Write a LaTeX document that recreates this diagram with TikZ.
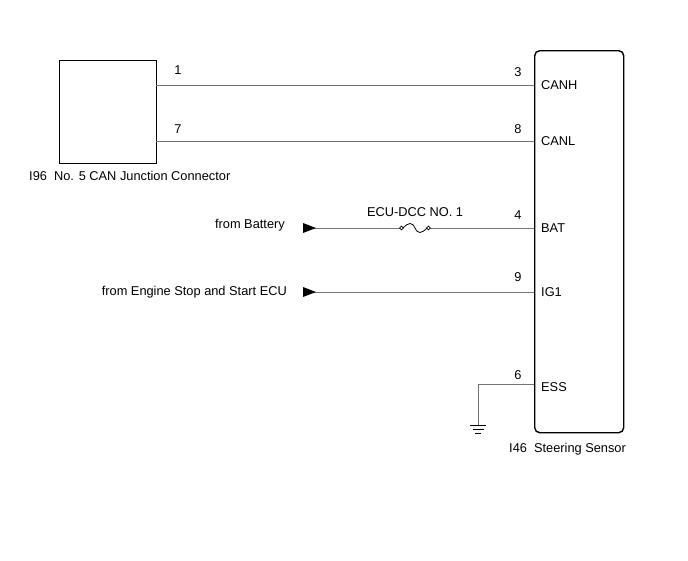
\documentclass[tikz,border=0pt]{standalone}
\usepackage{fontspec}
\setmainfont{Liberation Sans}
\begin{document}
\begin{tikzpicture}[x=1pt,y=-1pt,font=\fontsize{12.8}{15}\selectfont,
  wire/.style={draw=black!55,line width=0.9pt},
  lbl/.style={inner sep=0pt},
  arr/.style={fill=black}]
\useasboundingbox (0,0) rectangle (688,560);
\node[draw,line width=1.4pt,minimum width=97pt,minimum height=103pt,anchor=north west] (jc) at (59,60) {};
\node[draw,line width=1.4pt,rounded corners=5pt,minimum width=89pt,minimum height=382pt,anchor=north west] (ss) at (534,50) {};
\node[lbl,anchor=west] (jcl) at (29,176) {I96\ \ No. 5 CAN Junction Connector};
\node[lbl,anchor=west] (ssl) at (509,449) {I46\ \ Steering Sensor};
% pins
\coordinate (c1) at (156,85); \coordinate (c7) at (156,141);
\coordinate (p3) at (534,85); \coordinate (p8) at (534,141);
\coordinate (p4) at (534,228); \coordinate (p9) at (534,292); \coordinate (p6) at (534,384);
\draw[wire] (c1) -- (p3); \draw[wire] (c7) -- (p8);
\node[lbl] (n1) at (178,70) {1}; \node[lbl] (n7) at (178,129) {7};
\node[lbl] (n3) at (518,72) {3}; \node[lbl] (n8) at (518,129) {8};
\node[lbl] (n4) at (518,215) {4}; \node[lbl] (n9) at (518,277) {9}; \node[lbl] (n6) at (518,375) {6};
\node[lbl,anchor=west] (t1) at (541,85) {CANH};
\node[lbl,anchor=west] (t2) at (541,141) {CANL};
\node[lbl,anchor=west] (t3) at (541,228) {BAT};
\node[lbl,anchor=west] (t4) at (541,292) {IG1};
\node[lbl,anchor=west] (t5) at (541,387) {ESS};
% battery line
\coordinate (a4) at (303,228); \coordinate (a9) at (303,292);
\node[lbl,anchor=east] (fb) at (285,225) {from Battery};
\node[lbl,anchor=east] (fe) at (287,292) {from Engine Stop and Start ECU};
\node[lbl] (fl) at (415,212) {ECU-DCC NO. 1};
\coordinate (f1) at (401.5,228); \coordinate (f2) at (428.5,228);
\draw[wire] (a4) -- (f1); \draw[wire] (f2) -- (p4);
\draw[line width=0.8pt] (403,228) .. controls (409,222) and (412,222) .. (415,228) .. controls (418,234) and (421,234) .. (427,228);
\draw[line width=0.7pt,fill=white] (f1) circle (1.8pt) (f2) circle (1.8pt);
\draw[wire] (a9) -- (p9);
\fill (303,223) -- (316,228) -- (303,233) -- cycle;
\fill (303,287) -- (316,292) -- (303,297) -- cycle;
% ground
\coordinate (g0) at (478,384); \coordinate (g1) at (478,425);
\draw[wire] (p6) -- (g0) -- (g1);
\draw[line width=0.9pt] (470,425)--(486,425) (472.5,429)--(483.5,429) (475,433)--(481,433);
\end{tikzpicture}
\end{document}
